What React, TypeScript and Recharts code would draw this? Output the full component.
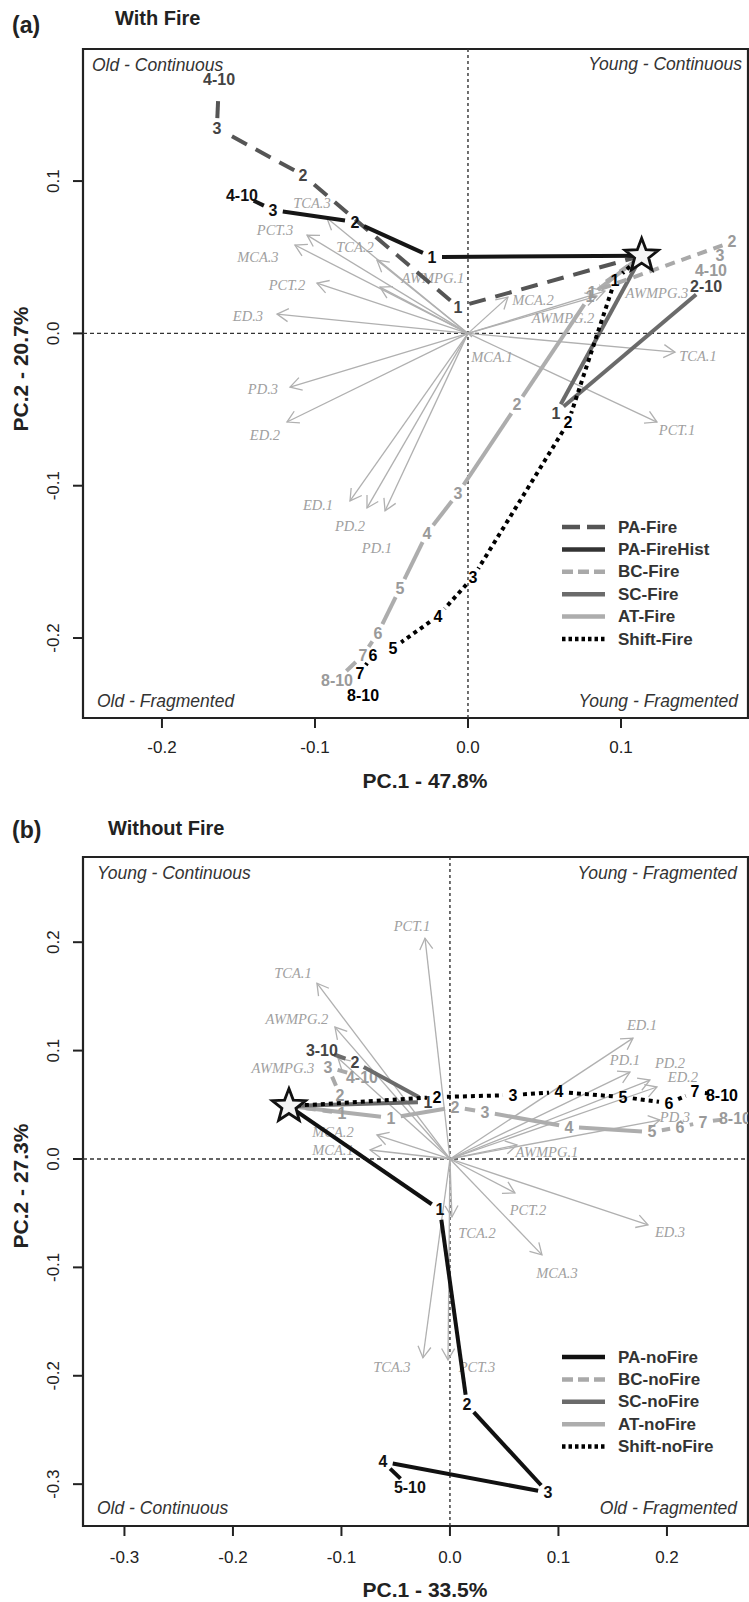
import React from 'react';
import { ScatterChart, Scatter, XAxis, YAxis, ReferenceLine, ReferenceArea, Legend } from 'recharts';

type Pt = { s: string; x: number; y: number };
type Vec = { name: string; x: number; y: number; lx: number; ly: number };
type LineStyle = { color: string; labelColor: string; width: number; dash?: string; legendDash?: string };

const FONT = '"Liberation Sans", Arial, Helvetica, sans-serif';
const SERIF = '"Liberation Serif", "Times New Roman", Times, serif';

// ================= Panel (a) : With Fire =================
const xTicksA = [-0.2, -0.1, 0.0, 0.1];
const yTicksA = [-0.2, -0.1, 0.0, 0.1];
const xDomainA: [number, number] = [-0.2516, 0.183];
const yDomainA: [number, number] = [-0.2525, 0.1867];
const startA: Pt = { s: '', x: 0.1135, y: 0.051 };

const paFireA: Pt[] = [
  { s: '1', x: -0.0065, y: 0.0173 },
  { s: '2', x: -0.1078, y: 0.1039 },
  { s: '3', x: -0.1641, y: 0.1348 },
  { s: '4-10', x: -0.1627, y: 0.167 },
];
const paFireHistA: Pt[] = [
  { s: '1', x: -0.0235, y: 0.0501 },
  { s: '2', x: -0.0739, y: 0.0731 },
  { s: '3', x: -0.1275, y: 0.081 },
  { s: '4-10', x: -0.1477, y: 0.0908 },
];
const bcFireA: Pt[] = [
  { s: '1', x: 0.081, y: 0.0271 },
  { s: '2', x: 0.1725, y: 0.06 },
  { s: '3', x: 0.1647, y: 0.0514 },
  { s: '4-10', x: 0.1588, y: 0.0416 },
];
const scFireA: Pt[] = [
  { s: '1', x: 0.0575, y: -0.0523 },
  { s: '2-10', x: 0.1556, y: 0.031 },
];
const atFireA: Pt[] = [
  { s: '1', x: 0.0797, y: 0.0245 },
  { s: '2', x: 0.032, y: -0.047 },
  { s: '3', x: -0.0065, y: -0.1049 },
  { s: '4', x: -0.0268, y: -0.1311 },
  { s: '5', x: -0.0444, y: -0.1672 },
  { s: '6', x: -0.0588, y: -0.1968 },
  { s: '7', x: -0.0686, y: -0.2112 },
  { s: '8-10', x: -0.0856, y: -0.2276 },
];
const shiftFireA: Pt[] = [
  { s: '1', x: 0.0961, y: 0.035 },
  { s: '2', x: 0.0654, y: -0.0587 },
  { s: '3', x: 0.0033, y: -0.16 },
  { s: '4', x: -0.0196, y: -0.1856 },
  { s: '5', x: -0.049, y: -0.2066 },
  { s: '6', x: -0.0621, y: -0.2112 },
  { s: '7', x: -0.0706, y: -0.223 },
  { s: '8-10', x: -0.0686, y: -0.2375 },
];
const vectorsA: Vec[] = [
  { name: 'TCA.1', x: 0.1353, y: -0.0123, lx: 0.1503, ly: -0.0149 },
  { name: 'PCT.1', x: 0.1235, y: -0.0582, lx: 0.1366, ly: -0.0635 },
  { name: 'MCA.1', x: 0.0026, y: -0.0024, lx: 0.0157, ly: -0.0156 },
  { name: 'MCA.2', x: 0.0261, y: 0.0238, lx: 0.0425, ly: 0.0219 },
  { name: 'AWMPG.2', x: 0.0843, y: 0.0245, lx: 0.0621, ly: 0.01 },
  { name: 'AWMPG.3', x: 0.0895, y: 0.0278, lx: 0.1235, ly: 0.0265 },
  { name: 'AWMPG.1', x: -0.0575, y: 0.0304, lx: -0.0229, ly: 0.0364 },
  { name: 'TCA.2', x: -0.0595, y: 0.0481, lx: -0.0739, ly: 0.0567 },
  { name: 'TCA.3', x: -0.0922, y: 0.0757, lx: -0.102, ly: 0.0856 },
  { name: 'PCT.3', x: -0.1052, y: 0.0645, lx: -0.1261, ly: 0.0678 },
  { name: 'MCA.3', x: -0.1131, y: 0.058, lx: -0.1373, ly: 0.0501 },
  { name: 'PCT.2', x: -0.0987, y: 0.033, lx: -0.1183, ly: 0.0317 },
  { name: 'ED.3', x: -0.1248, y: 0.0127, lx: -0.1438, ly: 0.0114 },
  { name: 'PD.3', x: -0.1163, y: -0.0353, lx: -0.134, ly: -0.0366 },
  { name: 'ED.2', x: -0.1183, y: -0.0582, lx: -0.1327, ly: -0.0668 },
  { name: 'ED.1', x: -0.0771, y: -0.11, lx: -0.098, ly: -0.1127 },
  { name: 'PD.2', x: -0.066, y: -0.1146, lx: -0.0771, ly: -0.1264 },
  { name: 'PD.1', x: -0.0542, y: -0.1165, lx: -0.0595, ly: -0.141 },
];

// ================= Panel (b) : Without Fire =================
const xTicksB = [-0.3, -0.2, -0.1, 0.0, 0.1, 0.2];
const yTicksB = [-0.3, -0.2, -0.1, 0.0, 0.1, 0.2];
const xDomainB: [number, number] = [-0.3382, 0.2747];
const yDomainB: [number, number] = [-0.3386, 0.2786];
const startB: Pt = { s: '', x: -0.1484, y: 0.0488 };

const paNoFireB: Pt[] = [
  { s: '1', x: -0.0092, y: -0.047 },
  { s: '2', x: 0.0157, y: -0.2267 },
  { s: '3', x: 0.0903, y: -0.3078 },
  { s: '4', x: -0.0618, y: -0.2793 },
  { s: '5-10', x: -0.0369, y: -0.3032 },
];
const bcNoFireB: Pt[] = [
  { s: '1', x: -0.0995, y: 0.0424 },
  { s: '2', x: -0.1014, y: 0.059 },
  { s: '3', x: -0.1124, y: 0.0848 },
  { s: '4-10', x: -0.0811, y: 0.0756 },
];
const scNoFireB: Pt[] = [
  { s: '1', x: -0.0203, y: 0.0525 },
  { s: '2', x: -0.0876, y: 0.0894 },
  { s: '3-10', x: -0.118, y: 0.1005 },
];
const atNoFireB: Pt[] = [
  { s: '1', x: -0.0544, y: 0.0378 },
  { s: '2', x: 0.0046, y: 0.0479 },
  { s: '3', x: 0.0323, y: 0.0433 },
  { s: '4', x: 0.1097, y: 0.0295 },
  { s: '5', x: 0.1862, y: 0.0249 },
  { s: '6', x: 0.212, y: 0.0295 },
  { s: '7', x: 0.2332, y: 0.0341 },
  { s: '8-10', x: 0.2627, y: 0.0378 },
];
const shiftNoFireB: Pt[] = [
  { s: '2', x: -0.012, y: 0.0571 },
  { s: '3', x: 0.0581, y: 0.059 },
  { s: '4', x: 0.1005, y: 0.0618 },
  { s: '5', x: 0.1594, y: 0.0571 },
  { s: '6', x: 0.2018, y: 0.0516 },
  { s: '7', x: 0.2258, y: 0.0618 },
  { s: '8-10', x: 0.2507, y: 0.059 },
];
const vectorsB: Vec[] = [
  { name: 'PCT.1', x: -0.023, y: 0.2037, lx: -0.035, ly: 0.2147 },
  { name: 'TCA.1', x: -0.1226, y: 0.1622, lx: -0.1447, ly: 0.1714 },
  { name: 'AWMPG.2', x: -0.106, y: 0.1217, lx: -0.141, ly: 0.129 },
  { name: 'AWMPG.3', x: -0.1032, y: 0.0931, lx: -0.1539, ly: 0.0839 },
  { name: 'MCA.2', x: -0.0673, y: 0.0221, lx: -0.1078, ly: 0.0249 },
  { name: 'MCA.1', x: -0.0737, y: 0.0083, lx: -0.1078, ly: 0.0083 },
  { name: 'AWMPG.1', x: 0.0618, y: 0.0129, lx: 0.0894, ly: 0.0065 },
  { name: 'PCT.2', x: 0.0599, y: -0.0313, lx: 0.0719, ly: -0.047 },
  { name: 'ED.3', x: 0.1825, y: -0.0608, lx: 0.2028, ly: -0.0673 },
  { name: 'MCA.3', x: 0.0848, y: -0.0885, lx: 0.0986, ly: -0.1051 },
  { name: 'TCA.2', x: 0.0018, y: -0.0535, lx: 0.0249, ly: -0.0682 },
  { name: 'TCA.3', x: -0.0249, y: -0.1834, lx: -0.0535, ly: -0.1917 },
  { name: 'PCT.3', x: -0.0018, y: -0.1853, lx: 0.0249, ly: -0.1917 },
  { name: 'ED.1', x: 0.1687, y: 0.1115, lx: 0.177, ly: 0.1235 },
  { name: 'PD.1', x: 0.1659, y: 0.0802, lx: 0.1613, ly: 0.0912 },
  { name: 'PD.2', x: 0.1843, y: 0.0728, lx: 0.2028, ly: 0.0885 },
  { name: 'ED.2', x: 0.1908, y: 0.0664, lx: 0.2147, ly: 0.0756 },
  { name: 'PD.3', x: 0.1935, y: 0.0359, lx: 0.2074, ly: 0.0387 },
];

// ================= Styles =================
const ST = {
  paFire: { color: '#555555', labelColor: '#444444', width: 4, dash: '17 10', legendDash: '18 7' },
  paHist: { color: '#161616', labelColor: '#111111', width: 4 },
  bc: { color: '#a9a9a9', labelColor: '#9a9a9a', width: 4, dash: '10 7', legendDash: '11 5' },
  sc: { color: '#6b6b6b', labelColor: '#444444', width: 4 },
  at: { color: '#adadad', labelColor: '#9a9a9a', width: 4 },
  shift: { color: '#000000', labelColor: '#000000', width: 4, dash: '4 4', legendDash: '3.5 3' },
  pa: { color: '#111111', labelColor: '#111111', width: 4 },
} as Record<string, LineStyle>;

const ARROW_COLOR = '#b0b0b0';
const ARROW_TEXT = '#a0a0a0';

// ================= Drawing helpers =================
function GapLine({ points, gaps, st }: { points: any[]; gaps: number[]; st: LineStyle }) {
  const segs: React.ReactNode[] = [];
  for (let i = 0; i < points.length - 1; i++) {
    const a = points[i];
    const b = points[i + 1];
    const dx = b.x - a.x;
    const dy = b.y - a.y;
    const L = Math.hypot(dx, dy);
    if (!isFinite(L) || L <= gaps[i] + gaps[i + 1] + 2) continue;
    const ux = dx / L;
    const uy = dy / L;
    segs.push(
      <line
        key={i}
        x1={a.x + ux * gaps[i]}
        y1={a.y + uy * gaps[i]}
        x2={b.x - ux * gaps[i + 1]}
        y2={b.y - uy * gaps[i + 1]}
      />
    );
  }
  return (
    <g fill="none" stroke={st.color} strokeWidth={st.width} strokeDasharray={st.dash}>
      {segs}
    </g>
  );
}

function Arrows({ points }: { points: any[] }) {
  const out: React.ReactNode[] = [];
  for (let i = 0; i + 1 < points.length; i += 2) {
    const a = points[i];
    const b = points[i + 1];
    const dx = b.x - a.x;
    const dy = b.y - a.y;
    const L = Math.hypot(dx, dy);
    if (!isFinite(L) || L < 1) continue;
    const ux = dx / L;
    const uy = dy / L;
    const hl = 13;
    const c = Math.cos(Math.PI / 6);
    const s = Math.sin(Math.PI / 6);
    const h1x = b.x - hl * (ux * c - uy * s);
    const h1y = b.y - hl * (uy * c + ux * s);
    const h2x = b.x - hl * (ux * c + uy * s);
    const h2y = b.y - hl * (uy * c - ux * s);
    out.push(
      <g key={i}>
        <line x1={a.x} y1={a.y} x2={b.x} y2={b.y} />
        {L > 15 ? <polyline points={`${h1x},${h1y} ${b.x},${b.y} ${h2x},${h2y}`} /> : null}
      </g>
    );
  }
  return (
    <g fill="none" stroke={ARROW_COLOR} strokeWidth={1.3}>
      {out}
    </g>
  );
}

const makePointLabel = (color: string) => (p: any) => {
  const s = p && p.payload ? p.payload.s : '';
  if (!s) return <g />;
  return (
    <text
      x={p.cx}
      y={p.cy}
      textAnchor="middle"
      dominantBaseline="central"
      fontFamily={FONT}
      fontWeight="bold"
      fontSize={16}
      fill={color}
    >
      {s}
    </text>
  );
};

const vecLabel = (p: any) => (
  <text
    x={p.cx}
    y={p.cy}
    textAnchor="middle"
    dominantBaseline="central"
    fontFamily={SERIF}
    fontStyle="italic"
    fontSize={14.5}
    fill={ARROW_TEXT}
  >
    {p.payload.s}
  </text>
);

const starShape = (p: any) => {
  const R = 17.5;
  const r = 7.4;
  const pts: string[] = [];
  for (let k = 0; k < 10; k++) {
    const ang = -Math.PI / 2 + (k * Math.PI) / 5;
    const rad = k % 2 === 0 ? R : r;
    pts.push(`${p.cx + rad * Math.cos(ang)},${p.cy + rad * Math.sin(ang)}`);
  }
  return (
    <g>
      <polygon points={pts.join(' ')} fill="#f4f4f4" stroke="#111" strokeWidth={2.8} strokeLinejoin="miter" />
    </g>
  );
};

const fmt = (v: number) => (Math.abs(v) < 1e-9 ? '0.0' : v.toFixed(1));

const makeXTick = (ty: number) => (p: any) => (
  <text x={p.x} y={ty} textAnchor="middle" dominantBaseline="central" fontFamily={FONT} fontSize={17} fill="#222">
    {fmt(Number(p.payload.value))}
  </text>
);

const YTick = (p: any) => (
  <text
    x={54}
    y={p.y}
    transform={`rotate(-90 54 ${p.y})`}
    textAnchor="middle"
    dominantBaseline="central"
    fontFamily={FONT}
    fontSize={17}
    fill="#222"
  >
    {fmt(Number(p.payload.value))}
  </text>
);

type Series = { key: string; data: Pt[]; st: LineStyle };
type LegendItem = { name: string; st: LineStyle };
type Quad = { text: string; corner: 'tl' | 'tr' | 'bl' | 'br'; dx: number; dy: number };

function LegendBox({ items }: { items: LegendItem[] }) {
  const rowH = 22.4;
  return (
    <svg width={190} height={items.length * rowH + 8}>
      {items.map((it, i) => {
        const cy = 12 + i * rowH;
        return (
          <g key={it.name}>
            <line
              x1={7}
              x2={50}
              y1={cy}
              y2={cy}
              stroke={it.st.color}
              strokeWidth={4.5}
              strokeDasharray={it.st.legendDash || it.st.dash}
            />
            <text x={63} y={cy} dominantBaseline="central" fontFamily={FONT} fontWeight="bold" fontSize={17} fill="#333">
              {it.name}
            </text>
          </g>
        );
      })}
    </svg>
  );
}

type PanelProps = {
  height: number;
  marginTop: number;
  xAxisHeight: number;
  xDomain: [number, number];
  yDomain: [number, number];
  xTicks: number[];
  yTicks: number[];
  xTickY: number;
  start: Pt;
  vectors: Vec[];
  series: Series[];
  legend: LegendItem[];
  legendTop: number;
  quads: Quad[];
  tag: string;
  title: string;
  tagBaseline: number;
  titleBaseline: number;
  titleX: number;
  xTitle: string;
  xTitleY: number;
  yTitle: string;
  yTitleY: number;
};

function Panel(props: PanelProps) {
  const {
    height, marginTop, xAxisHeight, xDomain, yDomain, xTicks, yTicks, xTickY, start, vectors, series,
    legend, legendTop, quads, tag, title, tagBaseline, titleBaseline, titleX, xTitle, xTitleY, yTitle, yTitleY,
  } = props;

  const arrowData = vectors.flatMap((v) => [
    { x: 0, y: 0 },
    { x: v.x, y: v.y },
  ]);
  const vecLabelData = vectors.map((v) => ({ x: v.lx, y: v.ly, s: v.name }));

  const quadContent = (lp: any) => {
    const vb = lp.viewBox || {};
    const { x, y, width, height: h } = vb;
    return (
      <g fontFamily={FONT} fontStyle="italic" fontSize={17.5} fill="#333">
        {quads.map((q) => {
          const left = q.corner === 'tl' || q.corner === 'bl';
          const top = q.corner === 'tl' || q.corner === 'tr';
          const tx = left ? x + q.dx : x + width - q.dx;
          const ty = top ? y + q.dy : y + h - q.dy;
          return (
            <text key={q.text} x={tx} y={ty} textAnchor={left ? 'start' : 'end'}>
              {q.text}
            </text>
          );
        })}
      </g>
    );
  };

  const xTitleContent = () => (
    <text x={425} y={xTitleY} textAnchor="middle" dominantBaseline="central" fontFamily={FONT} fontWeight="bold" fontSize={21} fill="#222">
      {xTitle}
    </text>
  );

  const yTitleContent = () => (
    <g fontFamily={FONT} fontWeight="bold" fill="#222">
      <text
        x={20}
        y={yTitleY}
        transform={`rotate(-90 20 ${yTitleY})`}
        textAnchor="middle"
        dominantBaseline="central"
        fontSize={21}
      >
        {yTitle}
      </text>
      <text x={12} y={tagBaseline} fontSize={23}>
        {tag}
      </text>
      <text x={titleX} y={titleBaseline} fontSize={20}>
        {title}
      </text>
    </g>
  );

  return (
    <ScatterChart width={749} height={height} margin={{ top: marginTop, right: 1, bottom: 0, left: 0 }}>
      <XAxis
        type="number"
        dataKey="x"
        domain={xDomain}
        ticks={xTicks}
        interval={0}
        allowDataOverflow
        axisLine={false}
        tickLine={{ stroke: '#222', strokeWidth: 2 }}
        tickSize={10}
        height={xAxisHeight}
        tick={makeXTick(xTickY)}
        label={{ value: xTitle, content: xTitleContent }}
      />
      <YAxis
        type="number"
        dataKey="y"
        domain={yDomain}
        ticks={yTicks}
        interval={0}
        allowDataOverflow
        axisLine={false}
        tickLine={{ stroke: '#222', strokeWidth: 2 }}
        tickSize={10}
        width={83}
        tick={YTick}
        label={{ value: yTitle, content: yTitleContent }}
      />
      <ReferenceLine x={0} stroke="#333" strokeWidth={1.4} strokeDasharray="3 3" />
      <ReferenceLine y={0} stroke="#333" strokeWidth={1.4} strokeDasharray="4 3" />
      <Scatter
        name="loadings"
        data={arrowData}
        isAnimationActive={false}
        line={(lp: any) => <Arrows points={lp.points} />}
        shape={() => <g />}
        legendType="none"
      />
      <Scatter name="loading-labels" data={vecLabelData} isAnimationActive={false} shape={vecLabel} legendType="none" />
      {series.map((se) => {
        const data = [start, ...se.data];
        const gaps = data.map((d) => (d.s === '' ? 0 : d.s.length > 1 ? 13 : 10));
        return (
          <Scatter
            key={se.key}
            name={se.key}
            data={data}
            isAnimationActive={false}
            line={(lp: any) => <GapLine points={lp.points} gaps={gaps} st={se.st} />}
            shape={makePointLabel(se.st.labelColor)}
            legendType="none"
          />
        );
      })}
      <Scatter name="start" data={[start]} isAnimationActive={false} shape={starShape} legendType="none" />
      <ReferenceArea
        x1={xDomain[0]}
        x2={xDomain[1]}
        y1={yDomain[0]}
        y2={yDomain[1]}
        fill="none"
        fillOpacity={0}
        stroke="#222"
        strokeWidth={2.2}
        ifOverflow="visible"
        label={{ value: ' ', content: quadContent }}
      />
      <Legend
        layout="vertical"
        align="center"
        verticalAlign="middle"
        width={190}
        wrapperStyle={{ left: 555, top: legendTop, width: 190 }}
        content={() => <LegendBox items={legend} />}
      />
    </ScatterChart>
  );
}

export default function App() {
  return (
    <div style={{ position: 'absolute', left: 0, top: 0, width: 749, height: 1602, background: '#fff', overflow: 'hidden' }}>
      <div style={{ position: 'absolute', left: 0, top: 0 }}>
        <Panel
          height={790}
          marginTop={49}
          xAxisHeight={72}
          xDomain={xDomainA}
          yDomain={yDomainA}
          xTicks={xTicksA}
          yTicks={yTicksA}
          xTickY={747}
          start={startA}
          vectors={vectorsA}
          series={[
            { key: 'AT-Fire', data: atFireA, st: ST.at },
            { key: 'SC-Fire', data: scFireA, st: ST.sc },
            { key: 'BC-Fire', data: bcFireA, st: ST.bc },
            { key: 'PA-Fire', data: paFireA, st: ST.paFire },
            { key: 'PA-FireHist', data: paFireHistA, st: ST.paHist },
            { key: 'Shift-Fire', data: shiftFireA, st: ST.shift },
          ]}
          legend={[
            { name: 'PA-Fire', st: ST.paFire },
            { name: 'PA-FireHist', st: { ...ST.paHist, color: '#333' } },
            { name: 'BC-Fire', st: ST.bc },
            { name: 'SC-Fire', st: ST.sc },
            { name: 'AT-Fire', st: ST.at },
            { name: 'Shift-Fire', st: ST.shift },
          ]}
          legendTop={515}
          quads={[
            { text: 'Old - Continuous', corner: 'tl', dx: 9, dy: 22 },
            { text: 'Young - Continuous', corner: 'tr', dx: 6, dy: 21 },
            { text: 'Old - Fragmented', corner: 'bl', dx: 14, dy: 11 },
            { text: 'Young - Fragmented', corner: 'br', dx: 10, dy: 11 },
          ]}
          tag="(a)"
          title="With Fire"
          tagBaseline={33}
          titleBaseline={25}
          titleX={115}
          xTitle="PC.1 - 47.8%"
          xTitleY={780}
          yTitle="PC.2 - 20.7%"
          yTitleY={369}
        />
      </div>
      <div style={{ position: 'absolute', left: 0, top: 790 }}>
        <Panel
          height={812}
          marginTop={67}
          xAxisHeight={76}
          xDomain={xDomainB}
          yDomain={yDomainB}
          xTicks={xTicksB}
          yTicks={yTicksB}
          xTickY={767}
          start={startB}
          vectors={vectorsB}
          series={[
            { key: 'AT-noFire', data: atNoFireB, st: ST.at },
            { key: 'BC-noFire', data: bcNoFireB, st: ST.bc },
            { key: 'SC-noFire', data: scNoFireB, st: ST.sc },
            { key: 'Shift-noFire', data: shiftNoFireB, st: ST.shift },
            { key: 'PA-noFire', data: paNoFireB, st: ST.pa },
          ]}
          legend={[
            { name: 'PA-noFire', st: ST.pa },
            { name: 'BC-noFire', st: ST.bc },
            { name: 'SC-noFire', st: ST.sc },
            { name: 'AT-noFire', st: ST.at },
            { name: 'Shift-noFire', st: ST.shift },
          ]}
          legendTop={555}
          quads={[
            { text: 'Young - Continuous', corner: 'tl', dx: 14, dy: 22 },
            { text: 'Young - Fragmented', corner: 'tr', dx: 11, dy: 22 },
            { text: 'Old - Continuous', corner: 'bl', dx: 14, dy: 12 },
            { text: 'Old - Fragmented', corner: 'br', dx: 11, dy: 12 },
          ]}
          tag="(b)"
          title="Without Fire"
          tagBaseline={48}
          titleBaseline={45}
          titleX={108}
          xTitle="PC.1 - 33.5%"
          xTitleY={799}
          yTitle="PC.2 - 27.3%"
          yTitleY={396}
        />
      </div>
    </div>
  );
}
